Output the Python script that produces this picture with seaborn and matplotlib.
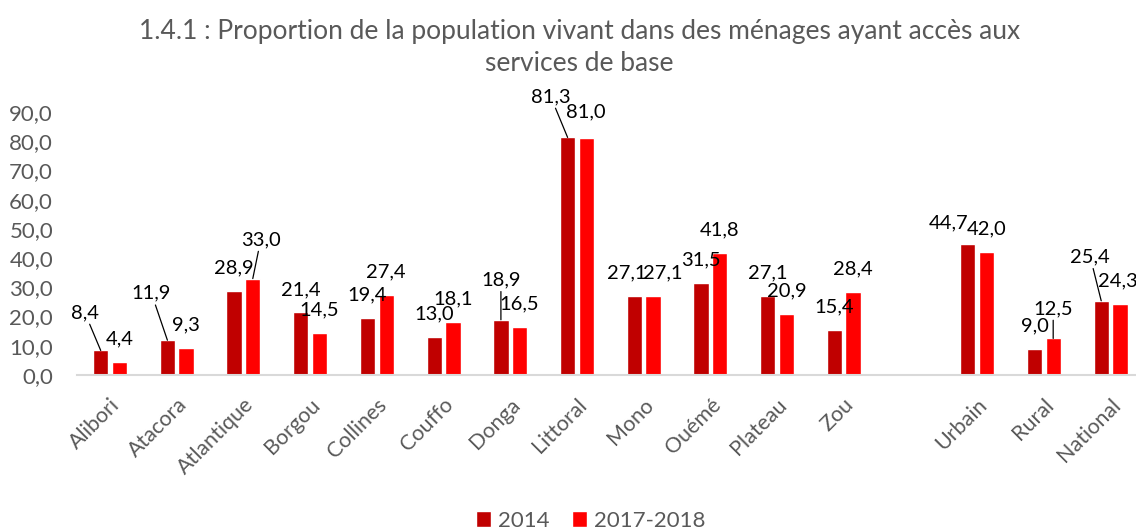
import numpy as np
import pandas as pd
import matplotlib
matplotlib.use("Agg")
import matplotlib.pyplot as plt
import seaborn as sns

# ---------------------------- DATA ---------------------------------

CATEGORIES = ["Alibori", "Atacora", "Atlantique", "Borgou", "Collines", "Couffo",
              "Donga", "Littoral", "Mono", "Ouémé", "Plateau", "Zou",
              "Urbain", "Rural", "National"]
VALUES_2014 = [8.4, 11.9, 28.9, 21.4, 19.4, 13.0, 18.9, 81.3, 27.1, 31.5, 27.1, 15.4,
               44.7, 9.0, 25.4]
VALUES_2017 = [4.4, 9.3, 33.0, 14.5, 27.4, 18.1, 16.5, 81.0, 27.1, 41.8, 20.9, 28.4,
               42.0, 12.5, 24.3]
SERIES = ["2014", "2017-2018"]
# empty slot between the departments and the urban/rural/national block
ORDER = CATEGORIES[:12] + [" "] + CATEGORIES[12:]

TITLE = "1.4.1 : Proportion de la population vivant dans des ménages ayant accès aux\nservices de base"
Y_TICKS = [0, 10, 20, 30, 40, 50, 60, 70, 80, 90]

# ---------------------------- STYLE --------------------------------

COLORS = {"2014": "#C00000", "2017-2018": "#FF0000"}
GREY = "#595959"

# label offsets in pixels: (dx, dy, leader line)
DEFAULT_OFFSET = (0, 23, False)
LABEL_OFFSETS = {
    ("Alibori", "2014"): (-16, 38, True),
    ("Atacora", "2014"): (-16, 47, True),
    ("Atlantique", "2017-2018"): (8, 39, True),
    ("Donga", "2014"): (0, 40, True),
    ("Littoral", "2014"): (-17, 41, True),
    ("Littoral", "2017-2018"): (0, 26, False),
    ("Mono", "2014"): (-8, 23, False),
    ("Mono", "2017-2018"): (10, 23, False),
    ("Urbain", "2014"): (-19, 22, False),
    ("Rural", "2017-2018"): (0, 30, True),
    ("National", "2014"): (-11, 44, True),
    ("National", "2017-2018"): (-2, 23, False),
}


def fmt(v):
    return f"{v:.1f}".replace(".", ",")


def main():
    sns.set_theme(style="white")
    plt.rcParams["font.family"] = ["Lato", "DejaVu Sans"]

    df = pd.DataFrame({
        "region": CATEGORIES * 2,
        "annee": [SERIES[0]] * len(CATEGORIES) + [SERIES[1]] * len(CATEGORIES),
        "valeur": VALUES_2014 + VALUES_2017,
    })

    fig = plt.figure(figsize=(11.36, 5.32), dpi=100)
    ax = fig.add_axes([76.7 / 1136, 157 / 532, 1067.2 / 1136, 263 / 532])

    sns.barplot(data=df, x="region", y="valeur", hue="annee", order=ORDER,
                hue_order=SERIES, palette=COLORS, width=0.56, gap=0.18,
                saturation=1, errorbar=None, legend=True, ax=ax)

    ax.set_ylim(0, 90)
    ax.set_xlim(-0.5, len(ORDER) - 0.5)
    ax.set_yticks(Y_TICKS)
    ax.set_yticklabels([fmt(t) for t in Y_TICKS], color=GREY, fontsize=16)
    ax.set_xticks(range(len(ORDER)))
    ax.set_xticklabels(ORDER, rotation=45, ha="right", rotation_mode="anchor",
                       color=GREY, fontsize=15.5)
    ax.tick_params(axis="y", length=0, pad=17)
    ax.tick_params(axis="x", length=0, pad=14)
    ax.set_xlabel("")
    ax.set_ylabel("")
    for side in ["top", "right", "left"]:
        ax.spines[side].set_visible(False)
    ax.spines["bottom"].set_color("#D9D9D9")
    ax.spines["bottom"].set_linewidth(1.5)

    # data labels
    for series, container in zip(SERIES, ax.containers):
        for patch in container.patches:
            h = patch.get_height()
            if np.isnan(h):
                continue
            xc = patch.get_x() + patch.get_width() / 2
            cat = ORDER[int(round(xc))]
            dx, dy, leader = LABEL_OFFSETS.get((cat, series), DEFAULT_OFFSET)
            arrow = None
            if leader:
                arrow = dict(arrowstyle="-", color="black", lw=0.9,
                             shrinkA=0, shrinkB=0)
            ax.annotate(fmt(h), xy=(xc, h), xytext=(dx, dy),
                        textcoords="offset pixels", ha="center", va="center",
                        fontsize=14.5, color="black", annotation_clip=False,
                        arrowprops=arrow)

    # legend at the bottom
    handles, labels = ax.get_legend_handles_labels()
    ax.legend_.remove()
    fig.legend(handles, labels, loc="lower center", bbox_to_anchor=(0.52, -0.035),
               ncol=2, frameon=False, fontsize=16, labelcolor=GREY,
               handlelength=0.7, handleheight=0.7, handletextpad=0.3,
               columnspacing=1.0)

    fig.suptitle(TITLE, x=0.51, y=0.965, fontsize=19, color=GREY,
                 linespacing=1.35)

    fig.savefig("out.png", dpi=100)
    plt.close(fig)


if __name__ == "__main__":
    main()
